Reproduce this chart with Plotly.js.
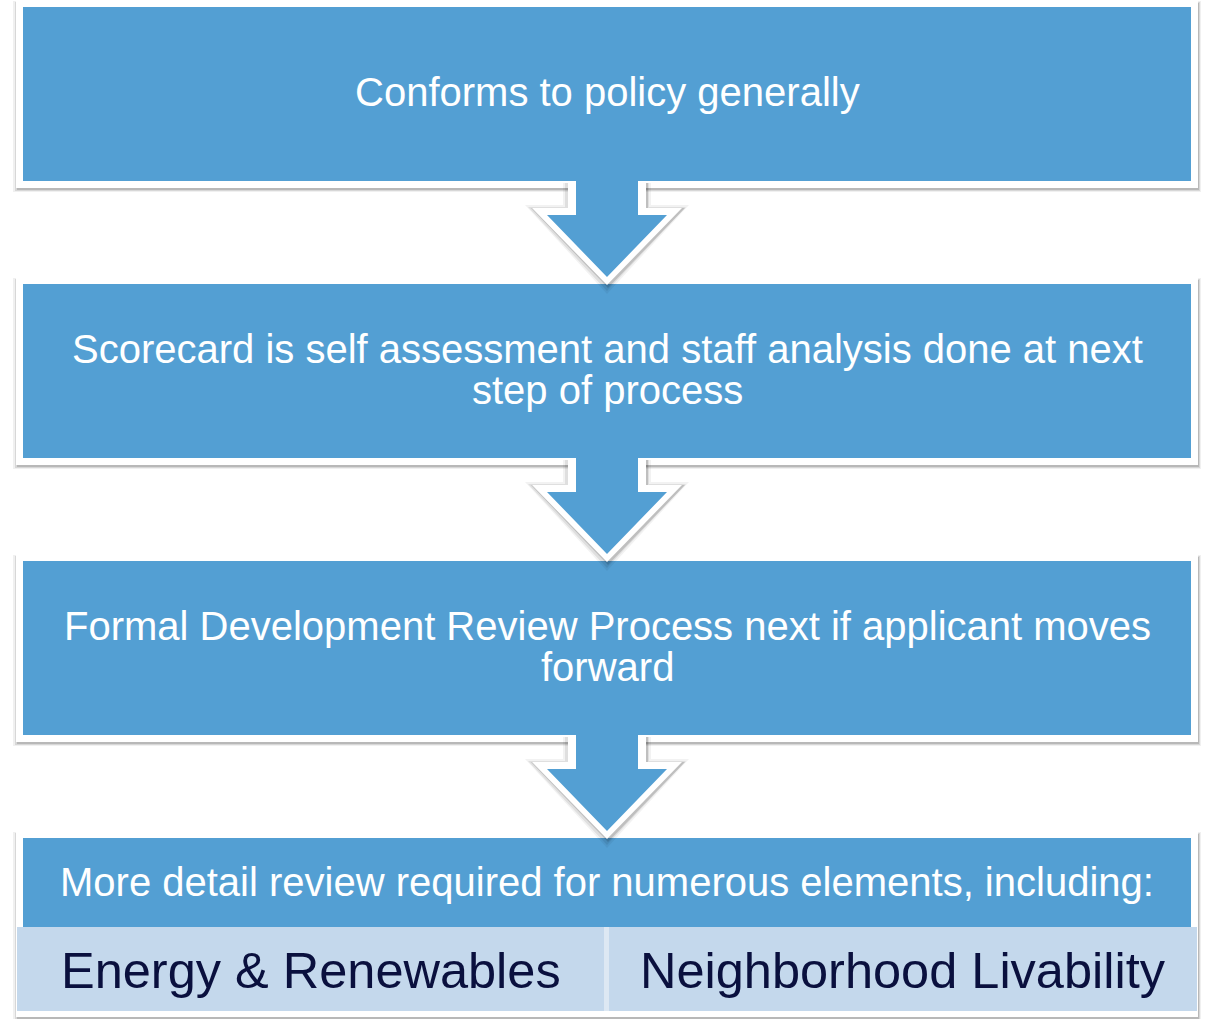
<!DOCTYPE html>
<html>
<head>
<meta charset="utf-8">
<script src="https://cdn.plot.ly/plotly-3.0.1.min.js"></script>
<style>html,body{margin:0;padding:0;background:#fff;}#chart{width:1207px;height:1019px;}</style>
</head>
<body>
<div id="chart"></div>
<script>
// Flow steps (each entry = lines of text in the box)
const stepLines = [
  ["Conforms to policy generally"],
  ["Scorecard is self assessment and staff analysis done at next", "step of process"],
  ["Formal Development Review Process next if applicant moves", "forward"],
  ["More detail review required for numerous elements, including:"]
];
// Review elements shown under the last step
const elements = ["Energy & Renewables", "Neighborhood Livability"];

const BLUE = "rgb(83,159,211)";
const LIGHT = "rgb(196,216,236)";
const GAP = "rgb(221,232,243)";
const NAVY = "rgb(10,16,62)";
const FONT = "Liberation Sans, Arial, sans-serif";

const W = 1207, H = 1019;
const boxX0 = 23, boxX1 = 1191;
const boxTop0 = 7, boxH = 174, pitch = 277;
const lastBoxH = 90, panelH = 83;
const frame = 7;
const cx = 607;

const shapes = [];
const annotations = [];

function rect(x0, y0, x1, y1, fill) {
  shapes.push({type: "rect", xref: "x", yref: "y", x0, y0, x1, y1,
    fillcolor: fill, line: {width: 0}, layer: "above"});
}
function poly(pts, fill) {
  const d = "M " + pts.map(p => p[0] + "," + p[1]).join(" L ") + " Z";
  shapes.push({type: "path", xref: "x", yref: "y", path: d,
    fillcolor: fill, line: {width: 0}, layer: "above"});
}
function arrowPts(yb, shaftHalf, headHalf, shaftLen, tipLen, topOff) {
  return [
    [cx - shaftHalf, yb - topOff],
    [cx + shaftHalf, yb - topOff],
    [cx + shaftHalf, yb + shaftLen],
    [cx + headHalf, yb + shaftLen],
    [cx, yb + tipLen],
    [cx - headHalf, yb + shaftLen],
    [cx - shaftHalf, yb + shaftLen]
  ];
}

stepLines.forEach((lines, i) => {
  const top = boxTop0 + i * pitch;
  const isLast = i === stepLines.length - 1;
  const bottom = top + (isLast ? lastBoxH : boxH);
  const frameBottom = isLast ? bottom + panelH + frame - 1 : bottom + frame;
  // soft shadow
  rect(boxX0 - frame - 3, top - frame + 1, boxX1 + frame + 3, frameBottom + 4, "rgba(0,0,0,0.06)");
  rect(boxX0 - frame - 1, top - frame + 2, boxX1 + frame + 2, frameBottom + 3, "rgba(0,0,0,0.10)");
  rect(boxX0 - frame + 1, top - frame + 3, boxX1 + frame + 1, frameBottom + 2, "rgba(0,0,0,0.14)");
  // white frame
  rect(boxX0 - frame, top - frame, boxX1 + frame, frameBottom, "#ffffff");
  // blue box
  rect(boxX0, top, boxX1, bottom, BLUE);
  // text
  const n = lines.length;
  const lineGap = 41;
  const midY = isLast ? top + 44 : top + boxH / 2 - 2;
  lines.forEach((t, k) => {
    annotations.push({
      x: cx, y: midY + (k - (n - 1) / 2) * lineGap, xref: "x", yref: "y",
      text: t, showarrow: false, xanchor: "center", yanchor: "middle",
      font: {family: FONT, size: 40, color: "#ffffff"}
    });
  });
  if (isLast) {
    const py0 = bottom - 1, py1 = bottom + panelH;
    const halves = [[boxX0 - 6, 604], [609, boxX1 + 6]];
    rect(halves[0][0], py0, halves[1][1], py1, GAP);
    elements.forEach((el, j) => {
      rect(halves[j][0], py0, halves[j][1], py1, LIGHT);
      annotations.push({
        x: (halves[j][0] + halves[j][1]) / 2, y: (py0 + py1) / 2 + 1, xref: "x", yref: "y",
        text: el, showarrow: false, xanchor: "center", yanchor: "middle",
        font: {family: FONT, size: 50.5, color: NAVY}
      });
    });
  }
});

// arrows between steps
for (let i = 0; i < stepLines.length - 1; i++) {
  const yb = boxTop0 + i * pitch + boxH;
  poly(arrowPts(yb + 2, 44, 82, 22, 111, 0), "rgba(0,0,0,0.05)");
  poly(arrowPts(yb + 2, 42, 79, 24, 108, 0), "rgba(0,0,0,0.08)");
  poly(arrowPts(yb + 2, 40, 77, 25, 105, 0).map(p => [p[0] + 1, p[1]]), "rgba(0,0,0,0.14)");
  poly(arrowPts(yb, 39, 75, 27, 104, 0), "#ffffff");
  poly(arrowPts(yb, 31, 60, 34, 96, 1), BLUE);
}

const layout = {
  width: W, height: H,
  margin: {l: 0, r: 0, t: 0, b: 0},
  paper_bgcolor: "#ffffff", plot_bgcolor: "#ffffff",
  xaxis: {range: [0, W], visible: false, fixedrange: true},
  yaxis: {range: [H, 0], visible: false, fixedrange: true},
  showlegend: false,
  shapes, annotations
};
Plotly.newPlot("chart", [], layout, {displayModeBar: false, staticPlot: true});
</script>
</body>
</html>
